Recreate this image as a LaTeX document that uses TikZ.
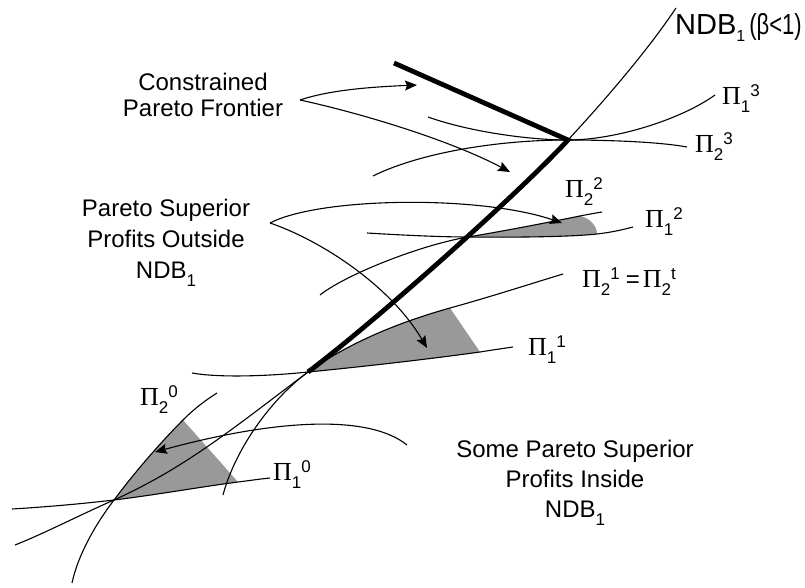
\documentclass[tikz,border=0pt]{standalone}
\usepackage{fontspec}
\usepackage{graphicx}
\setmainfont{Liberation Sans}
\newfontfamily\pifont{Liberation Serif}
\usetikzlibrary{arrows.meta}
\definecolor{lensgray}{gray}{0.6}
\newcommand{\PiL}[2]{{\pifont\fontsize{26}{26}\selectfont Π}\raisebox{-8pt}{\fontsize{17}{17}\selectfont #1}\raisebox{8pt}{\fontsize{17}{17}\selectfont #2}}
\newcommand{\NDBsub}{NDB\raisebox{-8pt}{\fontsize{17}{17}\selectfont 1}}
\begin{document}
\begin{tikzpicture}[x=1pt,y=-1pt,
  curve/.style={line width=1.1pt,black},
  frontier/.style={line width=4.8pt,black,line join=miter},
  arr/.style={line width=1.1pt,black,-{Stealth[length=12pt,width=10pt,inset=2pt]}},
  txt/.style={font=\fontsize{24}{26}\selectfont,inner sep=0pt,anchor=base},
  pil/.style={inner sep=0pt,anchor=base west}]
\useasboundingbox (0,0) rectangle (805,588);
\fill[white] (0,0) rectangle (805,588);

% key points
\coordinate (P0) at (114,500);
\coordinate (P1) at (308,372);
\coordinate (P2) at (468,237);
\coordinate (P3) at (568,140);
\coordinate (A0) at (183,420);
\coordinate (B0) at (238,482);
\coordinate (A1) at (450,308);
\coordinate (B1) at (480,352);
\coordinate (A2) at (580,216);
\coordinate (B2) at (597,234);

% shaded lenses
\fill[lensgray] (P0) .. controls (135,472) and (160,443) .. (A0) -- (B0) .. controls (200,487) and (155,495) .. (P0) -- cycle;
\fill[lensgray] (P1) .. controls (350,342) and (400,322) .. (A1) -- (B1) .. controls (430,359) and (360,367) .. (P1) -- cycle;
\fill[lensgray] (P2) .. controls (510,230) and (555,221) .. (A2) .. controls (590,218) and (597,226) .. (B2) .. controls (570,237) and (510,237.5) .. (P2) -- cycle;

% NDB_1 boundary
\draw[curve] (15,545) .. controls (43,534) and (82,514) .. (P0) .. controls (187,467) and (236,426) .. (P1) .. controls (372,324) and (514,198) .. (P3) .. controls (605,100) and (648,50) .. (676,8);

% iso-profit curves
\draw[curve] (428,117) .. controls (470,132) and (530,140) .. (P3) .. controls (615,140) and (680,120) .. (715,95);
\draw[curve] (373,176) .. controls (415,155) and (490,140) .. (P3) .. controls (610,140) and (660,142) .. (687,147);
\draw[curve] (320,295) .. controls (345,275) and (420,245) .. (P2) .. controls (510,230) and (555,221) .. (A2) .. controls (590,214) and (596,213) .. (602,212);
\draw[curve] (367,233) .. controls (400,235) and (440,237) .. (P2) .. controls (510,237.5) and (570,237) .. (B2) .. controls (610,232.5) and (622,230) .. (633,227);
\draw[curve] (223,495) .. controls (235,450) and (270,400) .. (P1) .. controls (350,342) and (400,322) .. (A1) .. controls (490,297) and (530,284) .. (563,274);
\draw[curve] (192,373) .. controls (220,378) and (270,376) .. (P1) .. controls (360,367) and (430,359) .. (B1) .. controls (492,350) and (503,348.5) .. (513,347);
\draw[curve] (72,583) .. controls (78,555) and (95,525) .. (P0) .. controls (135,472) and (160,443) .. (A0) .. controls (195,408) and (206,400) .. (217,393);
\draw[curve] (12,509) .. controls (45,507) and (80,504) .. (P0) .. controls (155,495) and (200,487) .. (B0) .. controls (250,480.5) and (260,479) .. (270,478);

% constrained Pareto frontier
\coordinate (F0) at (394,63);
\draw[frontier] (F0) -- (P3) .. controls (514,198) and (372,324) .. (P1);

% texts
\node[txt] (cpfA) at (203,91) {Constrained};
\node[txt] (cpfB) at (203,117) {Pareto Frontier};
\node[txt] (psoA) at (166,216.5) {Pareto Superior};
\node[txt] (psoB) at (166,247.5) {Profits Outside};
\node[txt] (psoC) at (166,278) {\NDBsub};
\node[txt] (spsA) at (575,457) {Some Pareto Superior};
\node[txt] (spsB) at (575,487) {Profits Inside};
\node[txt] (spsC) at (575,517) {\NDBsub};
\node[inner sep=0pt,anchor=base west,font=\fontsize{29}{29}\selectfont] (ndb) at (675,35) {NDB\raisebox{-7pt}{\fontsize{16}{16}\selectfont 1}\kern4pt\scalebox{0.76}[1]{(β<1)}};

\node[pil] (l13) at (722,105) {\PiL{1}{3}};
\node[pil] (l23) at (695,153) {\PiL{2}{3}};
\node[pil] (l22) at (565,197) {\PiL{2}{2}};
\node[pil] (l12) at (645,227) {\PiL{1}{2}};
\node[pil] (l21) at (582,287) {\PiL{2}{1}\kern6pt{\fontsize{24}{24}\selectfont =}\kern3pt\PiL{2}{t}};
\node[pil] (l11) at (528,355) {\PiL{1}{1}};
\node[pil] (l20) at (140,405) {\PiL{2}{0}};
\node[pil] (l10) at (273,480) {\PiL{1}{0}};

% arrows
\coordinate (cpfO) at (300,100);
\coordinate (cpfT1) at (417,85);
\coordinate (cpfT2) at (510,172);
\coordinate (psoO) at (270,223);
\coordinate (psoT1) at (562,223);
\coordinate (psoT2) at (427,348);
\coordinate (spsO) at (407,445);
\coordinate (spsT) at (155,452);
\draw[arr] (cpfO) .. controls (330,90) and (370,87) .. (cpfT1);
\draw[arr] (cpfO) .. controls (360,113) and (450,140) .. (cpfT2);
\draw[arr] (psoO) .. controls (320,197) and (480,195) .. (psoT1);
\draw[arr] (psoO) .. controls (320,240) and (390,285) .. (psoT2);
\draw[arr] (spsO) .. controls (370,415) and (280,418) .. (spsT);
\end{tikzpicture}
\end{document}
